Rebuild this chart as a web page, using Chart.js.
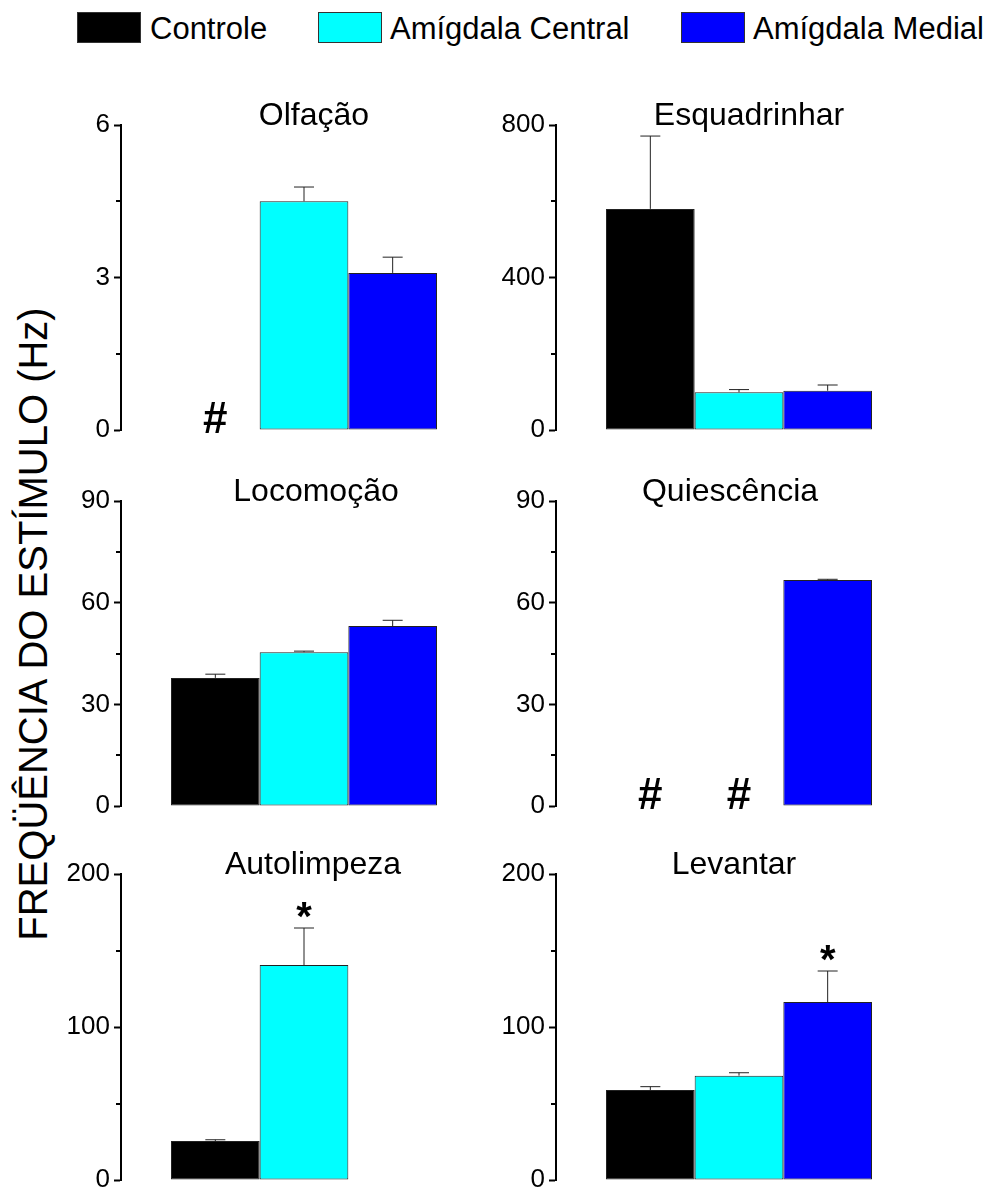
<!DOCTYPE html>
<html lang="pt">
<head>
<meta charset="UTF-8">
<title>Frequência do estímulo</title>
<script src="https://cdn.jsdelivr.net/npm/chart.js"></script>
<style>
  body { margin: 0; background: #fff; overflow: hidden; font-family: "Liberation Sans", Arial, sans-serif; }
  #page { position: relative; width: 991px; height: 1190px; background: #fff; }
  .key { position: absolute; top: 12px; width: 62px; height: 29px; border: 1px solid #333; }
  .key-label { position: absolute; top: 13px; font-size: 31px; line-height: 31px; white-space: nowrap; color: #000; }
  #ytitle {
    position: absolute; left: 33px; top: 624px;
    transform: translate(-50%, -50%) rotate(-90deg);
    font-size: 40px; line-height: 40px; white-space: nowrap; color: #000;
  }
  canvas { position: absolute; }
</style>
</head>
<body>
<div id="page">
  <div class="key" style="left:77px; background:#000000;"></div>
  <div class="key-label" style="left:150px;">Controle</div>
  <div class="key" style="left:318px; background:#00ffff;"></div>
  <div class="key-label" style="left:390px;">Amígdala Central</div>
  <div class="key" style="left:681px; background:#0000ff;"></div>
  <div class="key-label" style="left:753px;">Amígdala Medial</div>
  <div id="ytitle">FREQÜÊNCIA DO ESTÍMULO (Hz)</div>
</div>

<script>
// panel data
const panels = ['Olfação', 'Esquadrinhar', 'Locomoção', 'Quiescência', 'Autolimpeza', 'Levantar'];
const controle    = [0,    580, 37.8, 0,    25.5,  58.8];
const controleErr = [0,    191, 1.1,  0,    0.8,   2.2];
const central     = [4.5,  99,  45.4, 0,    140.5, 68.2];
const centralErr  = [0.28, 7,   0.3,  0,    24.2,  1.9];
const medial      = [3.09, 103, 53.1, 66.7, null,  116.3];
const medialErr   = [0.31, 15,  1.7,  0.2,  null,  20.3];
const controleMark = ['#', '', '', '#', '', ''];
const centralMark  = ['', '', '', '#', '*', ''];
const medialMark   = ['', '', '', '', '', '*'];
const yMax  = [6, 800, 90, 90, 200, 200];
const yStep = [3, 400, 30, 30, 100, 100];

// layout (pixels)
const colLeft = [0, 490], colWidth = [490, 501];
const axisWidth = [121, 66], padRight = [3, 69];
const rowTop = [125, 501, 874], rowPlot = [305, 305, 306];
const PAD_TOP = 50, PAD_BOTTOM = 20;
const titleShift = [10, 10, 12, -9, 9, -5];
const FONT = '"Liberation Sans", Arial, sans-serif';

// titles, error bars, minor ticks and # / * marks
const panelDecor = {
  id: 'panelDecor',
  afterDatasetsDraw(chart, args, opts) {
    const ctx = chart.ctx, area = chart.chartArea, y = chart.scales.y;
    ctx.save();
    // minor ticks
    ctx.strokeStyle = '#000';
    ctx.lineWidth = 2;
    for (let v = opts.step / 2; v < opts.max; v += opts.step) {
      const py = Math.round(y.getPixelForValue(v));
      ctx.beginPath();
      ctx.moveTo(area.left - 5, py);
      ctx.lineTo(area.left, py);
      ctx.stroke();
    }
    // error bars + marks
    chart.data.datasets.forEach((ds, di) => {
      const bar = chart.getDatasetMeta(di).data[0];
      const val = ds.data[0];
      if (!bar) return;
      let top = bar.y;
      if (val && ds.err) {
        top = y.getPixelForValue(val + ds.err);
        ctx.strokeStyle = '#222';
        ctx.lineWidth = 1;
        ctx.beginPath();
        ctx.moveTo(bar.x, bar.y);
        ctx.lineTo(bar.x, top);
        ctx.moveTo(bar.x - 10, top);
        ctx.lineTo(bar.x + 10, top);
        ctx.stroke();
      }
      ctx.fillStyle = '#000';
      ctx.textAlign = 'center';
      ctx.textBaseline = 'alphabetic';
      if (ds.mark === '#') {
        ctx.font = 'bold 44px ' + FONT;
        ctx.fillText('#', bar.x, area.bottom + 3);
      } else if (ds.mark === '*') {
        ctx.font = 'bold 40px ' + FONT;
        ctx.fillText('*', bar.x, top + 2);
      }
    });
    // panel title
    ctx.font = '32px ' + FONT;
    ctx.fillStyle = '#000';
    ctx.textAlign = 'center';
    ctx.textBaseline = 'alphabetic';
    ctx.fillText(opts.title, (area.left + area.right) / 2 + opts.shift, area.top);
    ctx.restore();
  }
};

const page = document.getElementById('page');

panels.forEach((name, i) => {
  const col = i % 2, row = Math.floor(i / 2);
  const canvas = document.createElement('canvas');
  canvas.width = colWidth[col];
  canvas.height = PAD_TOP + rowPlot[row] + PAD_BOTTOM;
  canvas.style.left = colLeft[col] + 'px';
  canvas.style.top = (rowTop[row] - PAD_TOP) + 'px';
  page.appendChild(canvas);

  new Chart(canvas, {
    type: 'bar',
    data: {
      labels: [name],
      datasets: [
        { label: 'Controle', data: [controle[i]], err: controleErr[i], mark: controleMark[i], backgroundColor: '#000000' },
        { label: 'Amígdala Central', data: [central[i]], err: centralErr[i], mark: centralMark[i], backgroundColor: '#00ffff' },
        { label: 'Amígdala Medial', data: [medial[i]], err: medialErr[i], mark: medialMark[i], backgroundColor: '#0000ff' }
      ]
    },
    options: {
      responsive: false,
      animation: false,
      devicePixelRatio: 1,
      layout: { padding: { top: PAD_TOP, bottom: PAD_BOTTOM, left: 0, right: padRight[col] } },
      datasets: {
        bar: {
          barPercentage: 1,
          categoryPercentage: 266 / 366,
          borderColor: '#222',
          borderWidth: c => (c.raw ? 1 : 0),
          borderSkipped: false
        }
      },
      plugins: {
        legend: { display: false },
        tooltip: { enabled: false },
        panelDecor: { title: name, shift: titleShift[i], step: yStep[i], max: yMax[i] }
      },
      scales: {
        x: { display: false },
        y: {
          min: 0,
          max: yMax[i],
          ticks: { stepSize: yStep[i], padding: 4, color: '#000', font: { family: FONT, size: 26 } },
          grid: { drawOnChartArea: false, tickLength: 7, tickWidth: 2, tickColor: '#000' },
          border: { display: true, color: '#000', width: 2 },
          afterFit: s => { s.width = axisWidth[col]; }
        }
      }
    },
    plugins: [panelDecor]
  });
});
</script>
</body>
</html>
